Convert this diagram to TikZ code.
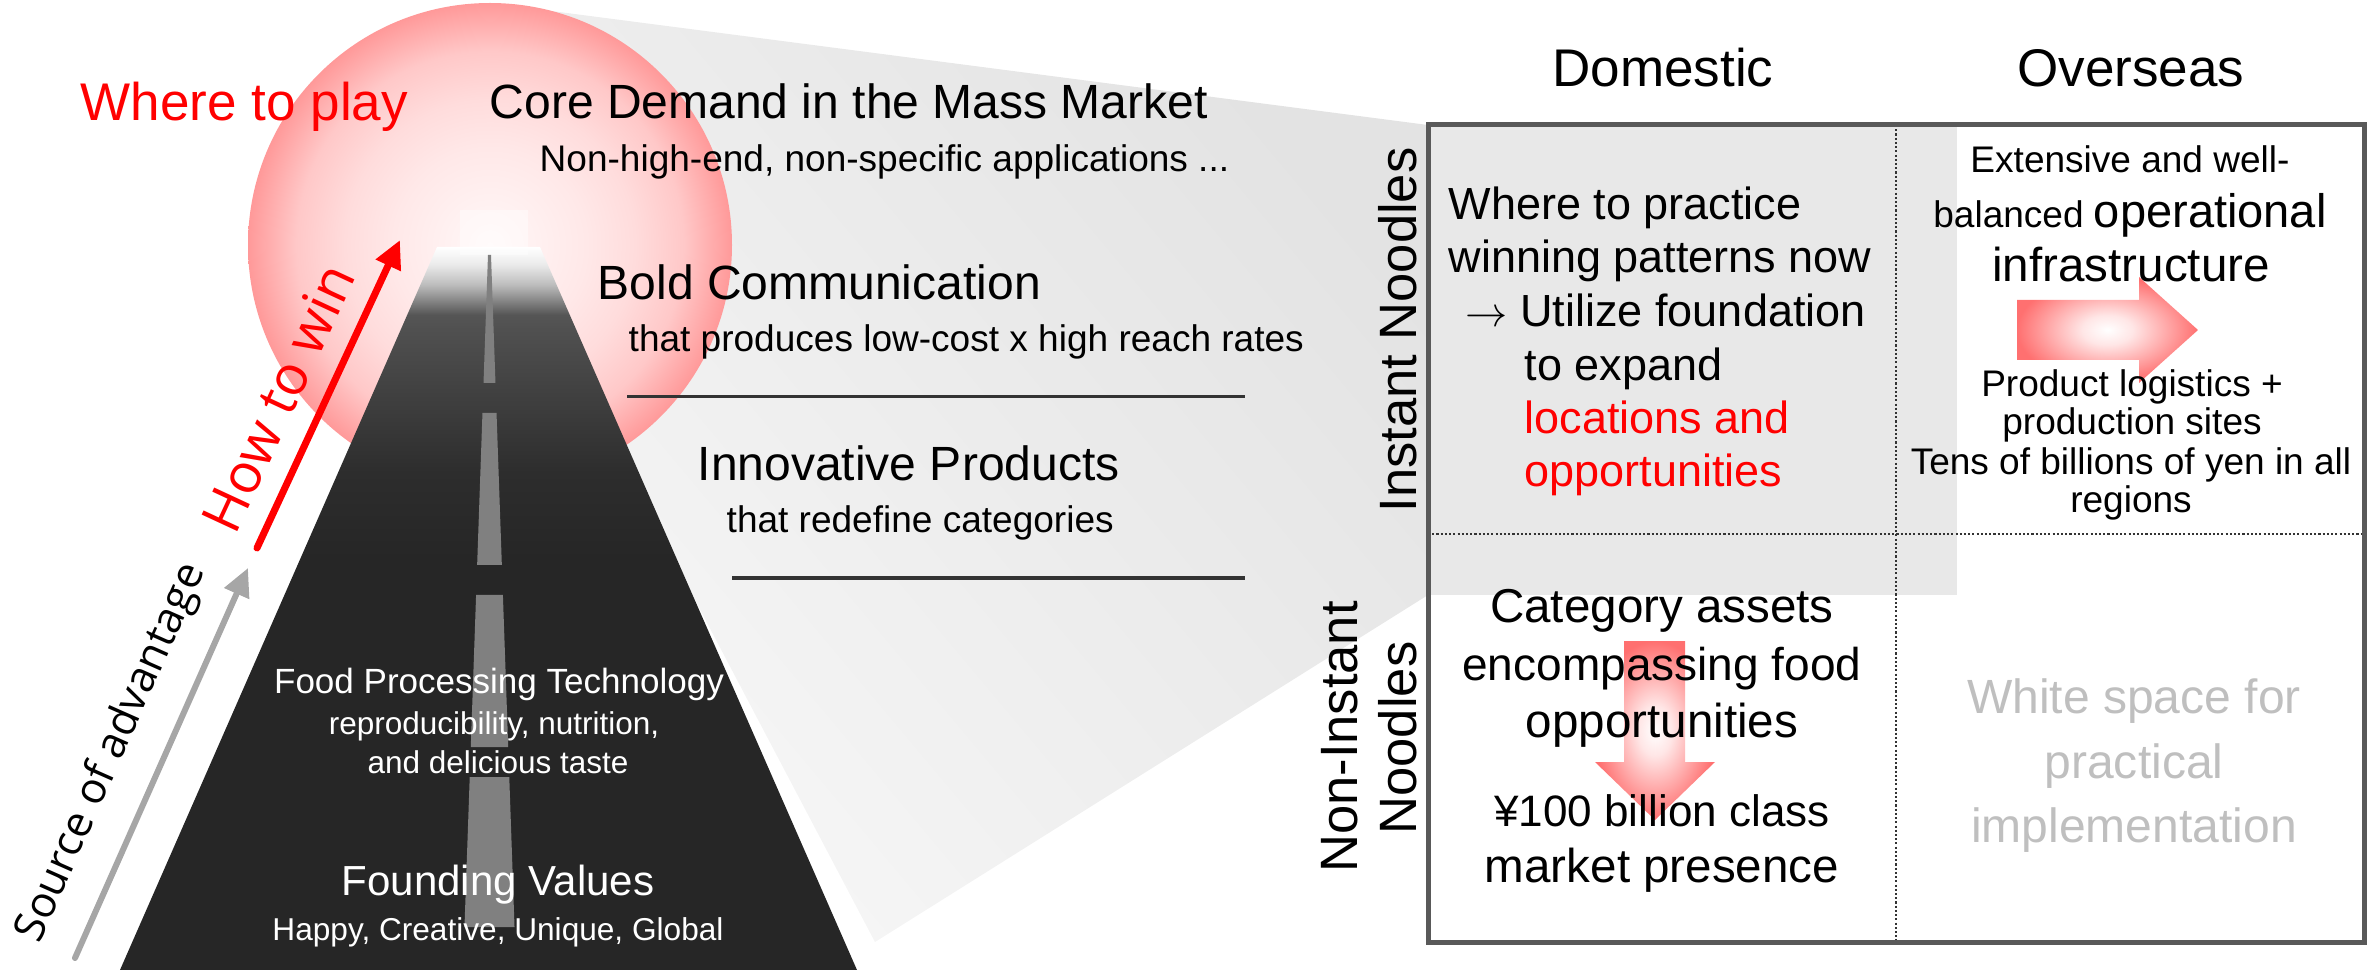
\documentclass[tikz,border=0pt]{standalone}
\usepackage{fontspec}
\setmainfont{Liberation Sans}
\newfontfamily\humfont{Open Sans}
\usetikzlibrary{arrows.meta}

% palette
\definecolor{glowA}{HTML}{FFF8F8}
\definecolor{glowB}{HTML}{FFE8E8}
\definecolor{glowC}{HTML}{FFDCDC}
\definecolor{glowD}{HTML}{FFC8C8}
\definecolor{glowE}{HTML}{FF9999}
\definecolor{roadA}{HTML}{262626}
\definecolor{roadB}{HTML}{2D2D2D}
\definecolor{roadC}{HTML}{505050}
\definecolor{roadD}{HTML}{555555}
\definecolor{roadE}{HTML}{777777}
\definecolor{roadF}{HTML}{BDBDBD}
\definecolor{roadG}{HTML}{EBEBEB}
\definecolor{lanegrey}{HTML}{808080}
\definecolor{arrowgrey}{HTML}{A6A6A6}
\definecolor{wedgeDark}{HTML}{E3E3E3}
\definecolor{wedgeLight}{HTML}{F7F7F7}
\definecolor{cellgrey}{HTML}{E8E8E8}
\definecolor{rulecol}{HTML}{333333}
\definecolor{bordercol}{HTML}{595959}
\definecolor{dotcol}{HTML}{333333}
\definecolor{fadedtext}{HTML}{BFBFBF}
\definecolor{arrA}{HTML}{FFE6E6}
\definecolor{arrB}{HTML}{FF7070}

% glow of the destination circle
\pgfdeclareradialshading{pinkglow}{\pgfpoint{0bp}{0bp}}{color(0bp)=(glowA); color(10bp)=(glowB); color(15bp)=(glowC); color(20bp)=(glowD); color(25bp)=(glowE); color(50bp)=(glowE)}
% road fading into the light at its far end
\pgfdeclareverticalshading{roadfade}{100bp}{color(0bp)=(roadA); color(53.4bp)=(roadA); color(59.4bp)=(roadB); color(69.3bp)=(roadC); color(70.3bp)=(roadD); color(71bp)=(roadE); color(72.4bp)=(roadF); color(73.8bp)=(roadG); color(75bp)=(white); color(100bp)=(white)}
% soft pink block arrows
\pgfdeclareradialshading{arrowglow}{\pgfpoint{0bp}{0bp}}{color(0bp)=(white); color(7bp)=(arrA); color(25bp)=(arrB); color(50bp)=(arrB)}

\newcommand\fz[1]{\fontsize{#1}{#1}\selectfont}

\begin{document}
\begin{tikzpicture}[x=0.01cm, y=-0.01cm,
  lt/.style={inner sep=0pt, anchor=base west},
  ct/.style={inner sep=0pt, anchor=base},
  rulemark/.style={draw=rulecol, line width=0.03cm},
  dotline/.style={draw=dotcol, line width=0.7pt, dash pattern=on 0.6pt off 0.6pt},
  tableborder/.style={draw=bordercol, line width=0.05cm},
  pinkarrow/.style={shading=arrowglow}]
\useasboundingbox (0,0) rectangle (2371,970);

% grey projection from the circle onto the matrix
\path[top color=wedgeDark, bottom color=wedgeLight, shading angle=-50]
  (490,3) -- (1428,125) -- (1428,595) -- (875,942) -- (695,600) -- (540,247) -- cycle;
\fill[cellgrey] (1428,125) rectangle (1957,595);

% destination circle
\path[shading=pinkglow] (490,245) circle[radius=242];

% road
\path[shading=roadfade] (437,247) -- (540,247) -- (857,970) -- (120,970) -- cycle;
\fill[white, opacity=0.45] (460,210) rectangle (528,255);
\foreach \a/\b in {255/383, 413/565, 595/747, 777/927}
  \fill[lanegrey] ({489.5-(1.5+0.035*(\a-255))},\a) -- ({489.5+(1.5+0.035*(\a-255))},\a)
    -- ({489.5+(1.5+0.035*(\b-255))},\b) -- ({489.5-(1.5+0.035*(\b-255))},\b) -- cycle;

% arrows beside the road
\coordinate (srcTail) at (75,958);
\coordinate (srcTip) at (248,568);
\draw[arrowgrey, line width=0.06cm, line cap=round, -{Triangle[width=0.26cm,length=0.28cm]}] (srcTail) -- (srcTip);
\coordinate (winTail) at (257,548);
\coordinate (winTip) at (400,240);
\draw[red, line width=0.07cm, line cap=round, -{Triangle[width=0.26cm,length=0.28cm]}] (winTail) -- (winTip);
\node[rotate=66.1, inner sep=0pt, font=\humfont\fz{12.23pt}] (src) at (112,753) {Source of advantage};
\node[rotate=65.1, inner sep=0pt, text=red, font=\humfont\fz{15.65pt}] (win) at (278,398) {How to win};

% captions along the road
\node[lt, text=red, font=\fz{15.08pt}] (play) at (80,121) {Where to play};
\node[lt, font=\fz{13.66pt}] (core) at (489,119) {Core Demand in the Mass Market};
\node[lt, font=\fz{10.53pt}] (coresub) at (539,172) {Non-high-end, non-specific applications ...};
\node[lt, font=\fz{13.66pt}] (bold) at (597,300) {Bold Communication};
\node[lt, font=\fz{10.53pt}] (boldsub) at (628,352) {that produces low-cost x high reach rates};
\node[lt, font=\fz{13.66pt}] (innov) at (697,481) {Innovative Products};
\node[lt, font=\fz{10.53pt}] (innovsub) at (726,533) {that redefine categories};

\coordinate (ruleA1) at (627,397);
\coordinate (ruleA2) at (1245,397);
\coordinate (ruleB1) at (732,578);
\coordinate (ruleB2) at (1245,578);
\draw[rulemark] (ruleA1) -- (ruleA2);
\draw[rulemark] (ruleB1) -- (ruleB2);

\node[ct, text=white, font=\fz{9.96pt}] (tech) at (499,693) {Food Processing Technology};
\node[ct, text=white, font=\fz{8.96pt}] (techa) at (494,735) {reproducibility, nutrition,};
\node[ct, text=white, font=\fz{8.96pt}] (techb) at (498,773) {and delicious taste};
\node[ct, text=white, font=\fz{11.95pt}] (found) at (498,895) {Founding Values};
\node[ct, text=white, font=\fz{8.99pt}] (founda) at (498,940) {Happy, Creative, Unique, Global};

% matrix headers
\node[ct, font=\fz{15.08pt}] (dom) at (1663,87) {Domestic};
\node[ct, font=\fz{15.08pt}] (ovs) at (2131,87) {Overseas};
\node[ct, rotate=90, font=\fz{14.94pt}] (inst) at (1416,330) {Instant Noodles};
\node[ct, rotate=90, font=\fz{14.94pt}] (noninstA) at (1357,737) {Non-Instant};
\node[ct, rotate=90, font=\fz{14.94pt}] (noninstB) at (1416,738) {Noodles};

% matrix grid
\draw[dotline] (1896,125) -- (1896,942);
\draw[dotline] (1428,534) -- (2364,534);

% domestic / instant noodles
\node[lt, font=\fz{12.8pt}] (dA) at (1448,220) {Where to practice};
\node[lt, font=\fz{12.8pt}] (dB) at (1448,273) {winning patterns now};
\node[lt, font=\fz{12.8pt}] (dC) at (1465,327) {$\rightarrow$ Utilize foundation};
\node[lt, font=\fz{12.8pt}] (dD) at (1524,380) {to expand};
\node[lt, text=red, font=\fz{12.8pt}] (dE) at (1524,433) {locations and};
\node[lt, text=red, font=\fz{12.8pt}] (dF) at (1524,487) {opportunities};

% overseas / instant noodles
\node[ct, font=\fz{10.53pt}] (oA) at (2130,173) {Extensive and well-};
\node[ct, font=\fz{10.53pt}] (oB) at (2130,228) {balanced {\fz{13.37pt}operational}};
\node[ct, font=\fz{13.52pt}] (oC) at (2131,282) {infrastructure};
\path[pinkarrow] (2017,300) -- (2139,300) -- (2139,277) -- (2198,330) -- (2139,383) -- (2139,360) -- (2017,360) -- cycle;
\node[ct, font=\fz{10.53pt}] (oD) at (2132,397) {Product logistics +};
\node[ct, font=\fz{10.53pt}] (oE) at (2132,435) {production sites};
\node[ct, font=\fz{10.53pt}] (oF) at (2131,475) {Tens of billions of yen in all};
\node[ct, font=\fz{10.53pt}] (oG) at (2131,513) {regions};

% domestic / non-instant noodles
\path[pinkarrow] (1624,641) -- (1685,641) -- (1685,762) -- (1715,762) -- (1655,820) -- (1595,762) -- (1624,762) -- cycle;
\node[ct, font=\fz{13.52pt}] (nA) at (1662,623) {Category assets};
\node[ct, font=\fz{13.09pt}] (nB) at (1662,680) {encompassing food};
\node[ct, font=\fz{13.52pt}] (nC) at (1662,737) {opportunities};
\node[ct, font=\fz{12.52pt}] (nD) at (1662,827) {¥100 billion class};
\node[ct, font=\fz{13.52pt}] (nE) at (1662,883) {market presence};

% overseas / non-instant noodles
\node[ct, text=fadedtext, font=\fz{13.66pt}] (wA) at (2134,713) {White space for};
\node[ct, text=fadedtext, font=\fz{13.66pt}] (wB) at (2134,778) {practical};
\node[ct, text=fadedtext, font=\fz{13.66pt}] (wC) at (2134,842) {implementation};

\draw[tableborder] (1428,125) rectangle (2364,942);
\end{tikzpicture}
\end{document}
